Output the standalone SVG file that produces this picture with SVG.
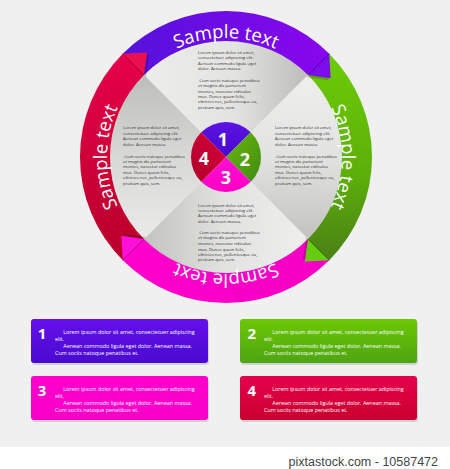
<svg xmlns="http://www.w3.org/2000/svg" xmlns:xlink="http://www.w3.org/1999/xlink" width="450" height="469" viewBox="0 0 450 469">
<defs>
<style>
.st{font-family:"Open Sans","Liberation Sans",sans-serif;font-size:18.5px;fill:#ffffff;text-anchor:middle}
.body{font-family:"Open Sans","Liberation Sans",sans-serif;font-size:4.3px;fill:#333333}
.num{font-family:"Open Sans","Liberation Sans",sans-serif;font-weight:bold;font-size:18px;fill:#ffffff;text-anchor:middle}
.bnum{font-family:"Open Sans","Liberation Sans",sans-serif;font-weight:bold;font-size:15px;fill:#ffffff;text-anchor:middle}
.btxt{font-family:"Open Sans","Liberation Sans",sans-serif;font-size:5.4px;fill:#ffffff}
.crease{stroke-width:1;fill:none}
</style>
<linearGradient id="gTop" gradientUnits="userSpaceOnUse" x1="143" y1="0" x2="309" y2="0"><stop offset="0" stop-color="#ededeb"/><stop offset="0.55" stop-color="#e3e3e1"/><stop offset="1" stop-color="#bcbcb8"/></linearGradient>
<linearGradient id="gRight" gradientUnits="userSpaceOnUse" x1="0" y1="74" x2="0" y2="240"><stop offset="0" stop-color="#efefed"/><stop offset="0.5" stop-color="#e2e2e0"/><stop offset="1" stop-color="#c2c2be"/></linearGradient>
<linearGradient id="gBottom" gradientUnits="userSpaceOnUse" x1="309" y1="0" x2="143" y2="0"><stop offset="0" stop-color="#efefed"/><stop offset="0.5" stop-color="#e2e2e0"/><stop offset="1" stop-color="#c2c2be"/></linearGradient>
<linearGradient id="gLeft" gradientUnits="userSpaceOnUse" x1="0" y1="240" x2="0" y2="74"><stop offset="0" stop-color="#eaeae8"/><stop offset="0.5" stop-color="#d8d8d6"/><stop offset="1" stop-color="#bdbdb9"/></linearGradient>
<linearGradient id="bPurple" gradientUnits="userSpaceOnUse" x1="123" y1="0" x2="329" y2="0"><stop offset="0" stop-color="#5412dc"/><stop offset="1" stop-color="#8a06ee"/></linearGradient>
<linearGradient id="bGreen" gradientUnits="userSpaceOnUse" x1="0" y1="54" x2="0" y2="260"><stop offset="0" stop-color="#6ccc06"/><stop offset="0.6" stop-color="#5cae0a"/><stop offset="1" stop-color="#4a8016"/></linearGradient>
<linearGradient id="bPink" gradientUnits="userSpaceOnUse" x1="329" y1="0" x2="123" y2="0"><stop offset="0" stop-color="#f400c4"/><stop offset="1" stop-color="#ff00cc"/></linearGradient>
<linearGradient id="bRed" gradientUnits="userSpaceOnUse" x1="0" y1="260" x2="0" y2="54"><stop offset="0" stop-color="#b8002a"/><stop offset="1" stop-color="#e6004a"/></linearGradient>
<linearGradient id="cPurple" x1="0" y1="0" x2="0" y2="1"><stop offset="0" stop-color="#5a14e4"/><stop offset="1" stop-color="#4a08cc"/></linearGradient>
<linearGradient id="cGreen" x1="0" y1="0" x2="1" y2="1"><stop offset="0" stop-color="#6cba0c"/><stop offset="1" stop-color="#3e8a14"/></linearGradient>
<linearGradient id="cPink" x1="0" y1="0" x2="0" y2="1"><stop offset="0" stop-color="#ff10d4"/><stop offset="1" stop-color="#ff00c4"/></linearGradient>
<linearGradient id="cRed" x1="1" y1="0" x2="0" y2="1"><stop offset="0" stop-color="#d8003a"/><stop offset="1" stop-color="#b0002a"/></linearGradient>
<linearGradient id="box1" x1="0" y1="0" x2="0" y2="1"><stop offset="0" stop-color="#6410ea"/><stop offset="1" stop-color="#4a0ad0"/></linearGradient>
<linearGradient id="box2" x1="0" y1="0" x2="0" y2="1"><stop offset="0" stop-color="#6cc806"/><stop offset="1" stop-color="#4ea412"/></linearGradient>
<linearGradient id="box3" x1="0" y1="0" x2="0" y2="1"><stop offset="0" stop-color="#ff00cc"/><stop offset="1" stop-color="#f800c8"/></linearGradient>
<linearGradient id="box4" x1="0" y1="0" x2="0" y2="1"><stop offset="0" stop-color="#e6004c"/><stop offset="1" stop-color="#c8002e"/></linearGradient>
<path id="tp" d="M141.85,241.15 A119,119 0 0 1 310.15,72.85 A119,119 0 0 1 141.85,241.15"/>
<path id="tpR" d="M143.97,239.03 A116,116 0 0 1 308.03,74.97 A116,116 0 0 1 143.97,239.03"/>
<path id="tpB" d="M143.26,239.74 A117,117 0 0 1 308.74,74.26 A117,117 0 0 1 143.26,239.74"/>
</defs>

<rect x="0" y="0" width="450" height="469" fill="#f0f0f0"/>
<rect x="0" y="447" width="450" height="22" fill="#ffffff"/>

<g id="disc">
<path d="M226,157 L142.56,73.56 A118,118 0 0 1 309.44,73.56 Z" fill="url(#gTop)"/>
<path d="M226,157 L309.44,73.56 A118,118 0 0 1 309.44,240.44 Z" fill="url(#gRight)"/>
<path d="M226,157 L309.44,240.44 A118,118 0 0 1 142.56,240.44 Z" fill="url(#gBottom)"/>
<path d="M226,157 L142.56,240.44 A118,118 0 0 1 142.56,73.56 Z" fill="url(#gLeft)"/>
</g>

<g id="ring-red">
<path d="M122.76,260.24 A146,146 0 0 1 122.76,53.76 L143.98,74.98 A116,116 0 0 0 143.98,239.02 Z" fill="url(#bRed)"/>
<text class="st"><textPath xlink:href="#tp" href="#tp" startOffset="12.5%">Sample text</textPath></text>
</g>
<g id="ring-green">
<path d="M329.24,53.76 A146,146 0 0 1 329.24,260.24 L308.02,239.02 A116,116 0 0 0 308.02,74.98 Z" fill="url(#bGreen)"/>
<text class="st"><textPath xlink:href="#tpR" href="#tpR" startOffset="62.5%">Sample text</textPath></text>
</g>
<g id="ring-pink">
<path d="M329.24,260.24 A146,146 0 0 1 122.76,260.24 L143.98,239.02 A116,116 0 0 0 308.02,239.02 Z" fill="url(#bPink)"/>
<text class="st"><textPath xlink:href="#tpB" href="#tpB" startOffset="87.5%">Sample text</textPath></text>
</g>
<g id="ring-purple">
<path d="M122.76,53.76 A146,146 0 0 1 329.24,53.76 L308.02,74.98 A116,116 0 0 0 143.98,74.98 Z" fill="url(#bPurple)"/>
<text class="st"><textPath xlink:href="#tp" href="#tp" startOffset="37.5%">Sample text</textPath></text>
</g>

<g id="tips">
<polygon points="124.8,55.5 149.2,54.4 146,77" fill="#000" opacity="0.18"/>
<polygon points="122.76,53.76 147.16,52.4 143.98,74.98" fill="#ea1050"/>
<line x1="122.76" y1="53.76" x2="143.98" y2="74.98" stroke="#a00032" class="crease"/>
<polygon points="327.5,55.8 328.6,80.2 306,77" fill="#000" opacity="0.18"/>
<polygon points="329.24,53.76 330.6,78.16 308.02,74.98" fill="#7c0cec"/>
<line x1="329.24" y1="53.76" x2="308.02" y2="74.98" stroke="#4600b0" class="crease"/>
<polygon points="327.2,258.5 302.8,259.6 306,237" fill="#000" opacity="0.18"/>
<polygon points="329.24,260.24 304.84,261.6 308.02,239.02" fill="#66cc12"/>
<line x1="329.24" y1="260.24" x2="308.02" y2="239.02" stroke="#3a6a10" class="crease"/>
<polygon points="124.5,258.2 123.4,233.8 146,237" fill="#000" opacity="0.18"/>
<polygon points="122.76,260.24 121.4,235.84 143.98,239.02" fill="#ff10d8"/>
<line x1="122.76" y1="260.24" x2="143.98" y2="239.02" stroke="#b00090" class="crease"/>
</g>

<g id="text-top" class="body">
<text x="198" y="54">Lorem ipsum dolor sit amet,</text>
<text x="198" y="59.4">consectetuer adipiscing elit.</text>
<text x="198" y="64.9">Aenean commodo ligula eget</text>
<text x="198" y="70.3">dolor. Aenean massa.</text>
<text x="199.3" y="81.7">Cum sociis natoque penatibus</text>
<text x="198" y="87.2">et magnis dis parturient</text>
<text x="198" y="92.6">montes, nascetur ridiculus</text>
<text x="198" y="98">mus. Donec quam felis,</text>
<text x="198" y="103.4">ultricies nec, pellentesque eu,</text>
<text x="198" y="108.8">pretium quis, sem.</text>
</g>
<g id="text-left" class="body">
<text x="123" y="129.3">Lorem ipsum dolor sit amet,</text>
<text x="123" y="134.7">consectetuer adipiscing elit.</text>
<text x="123" y="140.2">Aenean commodo ligula eget</text>
<text x="123" y="145.7">dolor. Aenean massa.</text>
<text x="124.3" y="157.6">Cum sociis natoque penatibus</text>
<text x="123" y="163">et magnis dis parturient</text>
<text x="123" y="168.4">montes, nascetur ridiculus</text>
<text x="123" y="173.9">mus. Donec quam felis,</text>
<text x="123" y="179.4">ultricies nec, pellentesque eu,</text>
<text x="123" y="184.8">pretium quis, sem.</text>
</g>
<g id="text-right" class="body">
<text x="275" y="129.3">Lorem ipsum dolor sit amet,</text>
<text x="275" y="134.7">consectetuer adipiscing elit.</text>
<text x="275" y="140.2">Aenean commodo ligula eget</text>
<text x="275" y="145.7">dolor. Aenean massa.</text>
<text x="276.3" y="157.6">Cum sociis natoque penatibus</text>
<text x="275" y="163">et magnis dis parturient</text>
<text x="275" y="168.4">montes, nascetur ridiculus</text>
<text x="275" y="173.9">mus. Donec quam felis,</text>
<text x="275" y="179.4">ultricies nec, pellentesque eu,</text>
<text x="275" y="184.8">pretium quis, sem.</text>
</g>
<g id="text-bottom" class="body">
<text x="198" y="206.6">Lorem ipsum dolor sit amet,</text>
<text x="198" y="212">consectetuer adipiscing elit.</text>
<text x="198" y="217.4">Aenean commodo ligula eget</text>
<text x="198" y="222.8">dolor. Aenean massa.</text>
<text x="199.3" y="234">Cum sociis natoque penatibus</text>
<text x="198" y="239.4">et magnis dis parturient</text>
<text x="198" y="244.9">montes, nascetur ridiculus</text>
<text x="198" y="250.5">mus. Donec quam felis,</text>
<text x="198" y="255.9">ultricies nec, pellentesque eu,</text>
<text x="198" y="261.3">pretium quis, sem.</text>
</g>

<g id="hub">
<path d="M226,157 L201.25,132.25 A35,35 0 0 1 250.75,132.25 Z" fill="url(#cPurple)"/>
<path d="M226,157 L250.75,132.25 A35,35 0 0 1 250.75,181.75 Z" fill="url(#cGreen)"/>
<path d="M226,157 L250.75,181.75 A35,35 0 0 1 201.25,181.75 Z" fill="url(#cPink)"/>
<path d="M226,157 L201.25,181.75 A35,35 0 0 1 201.25,132.25 Z" fill="url(#cRed)"/>
<text class="num" x="223" y="146">1</text>
<text class="num" x="245" y="166">2</text>
<text class="num" x="226" y="184">3</text>
<text class="num" x="204" y="165.3">4</text>
</g>

<g id="box-1">
<rect x="32" y="321" width="177" height="44" rx="3" fill="#000" opacity="0.12"/>
<rect x="31" y="319" width="177" height="44" rx="3" fill="url(#box1)"/>
<text class="bnum" x="42" y="338.5">1</text>
<text class="btxt" x="63.3" y="333.5">Lorem ipsum dolor sit amet, consectetuer adipiscing</text>
<text class="btxt" x="55" y="340.5">elit.</text>
<text class="btxt" x="63.3" y="347.5">Aenean commodo ligula eget dolor. Aenean massa.</text>
<text class="btxt" x="55" y="354.5">Cum sociis natoque penatibus et.</text>
</g>
<g id="box-2">
<rect x="241" y="321" width="177" height="44" rx="3" fill="#000" opacity="0.12"/>
<rect x="240" y="319" width="177" height="44" rx="3" fill="url(#box2)"/>
<text class="bnum" x="251.7" y="338.5">2</text>
<text class="btxt" x="272.3" y="333.5">Lorem ipsum dolor sit amet, consectetuer adipiscing</text>
<text class="btxt" x="264" y="340.5">elit.</text>
<text class="btxt" x="272.3" y="347.5">Aenean commodo ligula eget dolor. Aenean massa.</text>
<text class="btxt" x="264" y="354.5">Cum sociis natoque penatibus et.</text>
</g>
<g id="box-3">
<rect x="32" y="378" width="177" height="44" rx="3" fill="#000" opacity="0.12"/>
<rect x="31" y="376" width="177" height="44" rx="3" fill="url(#box3)"/>
<text class="bnum" x="42" y="395.5">3</text>
<text class="btxt" x="63.3" y="390.5">Lorem ipsum dolor sit amet, consectetuer adipiscing</text>
<text class="btxt" x="55" y="397.5">elit.</text>
<text class="btxt" x="63.3" y="404.5">Aenean commodo ligula eget dolor. Aenean massa.</text>
<text class="btxt" x="55" y="411.5">Cum sociis natoque penatibus et.</text>
</g>
<g id="box-4">
<rect x="241" y="378" width="177" height="44" rx="3" fill="#000" opacity="0.12"/>
<rect x="240" y="376" width="177" height="44" rx="3" fill="url(#box4)"/>
<text class="bnum" x="251.7" y="395.5">4</text>
<text class="btxt" x="272.3" y="390.5">Lorem ipsum dolor sit amet, consectetuer adipiscing</text>
<text class="btxt" x="264" y="397.5">elit.</text>
<text class="btxt" x="272.3" y="404.5">Aenean commodo ligula eget dolor. Aenean massa.</text>
<text class="btxt" x="264" y="411.5">Cum sociis natoque penatibus et.</text>
</g>

<text x="438" y="466" font-family="Liberation Sans, Arial, sans-serif" font-size="12.5" fill="#444444" text-anchor="end">pixtastock.com - 10587472</text>
</svg>
